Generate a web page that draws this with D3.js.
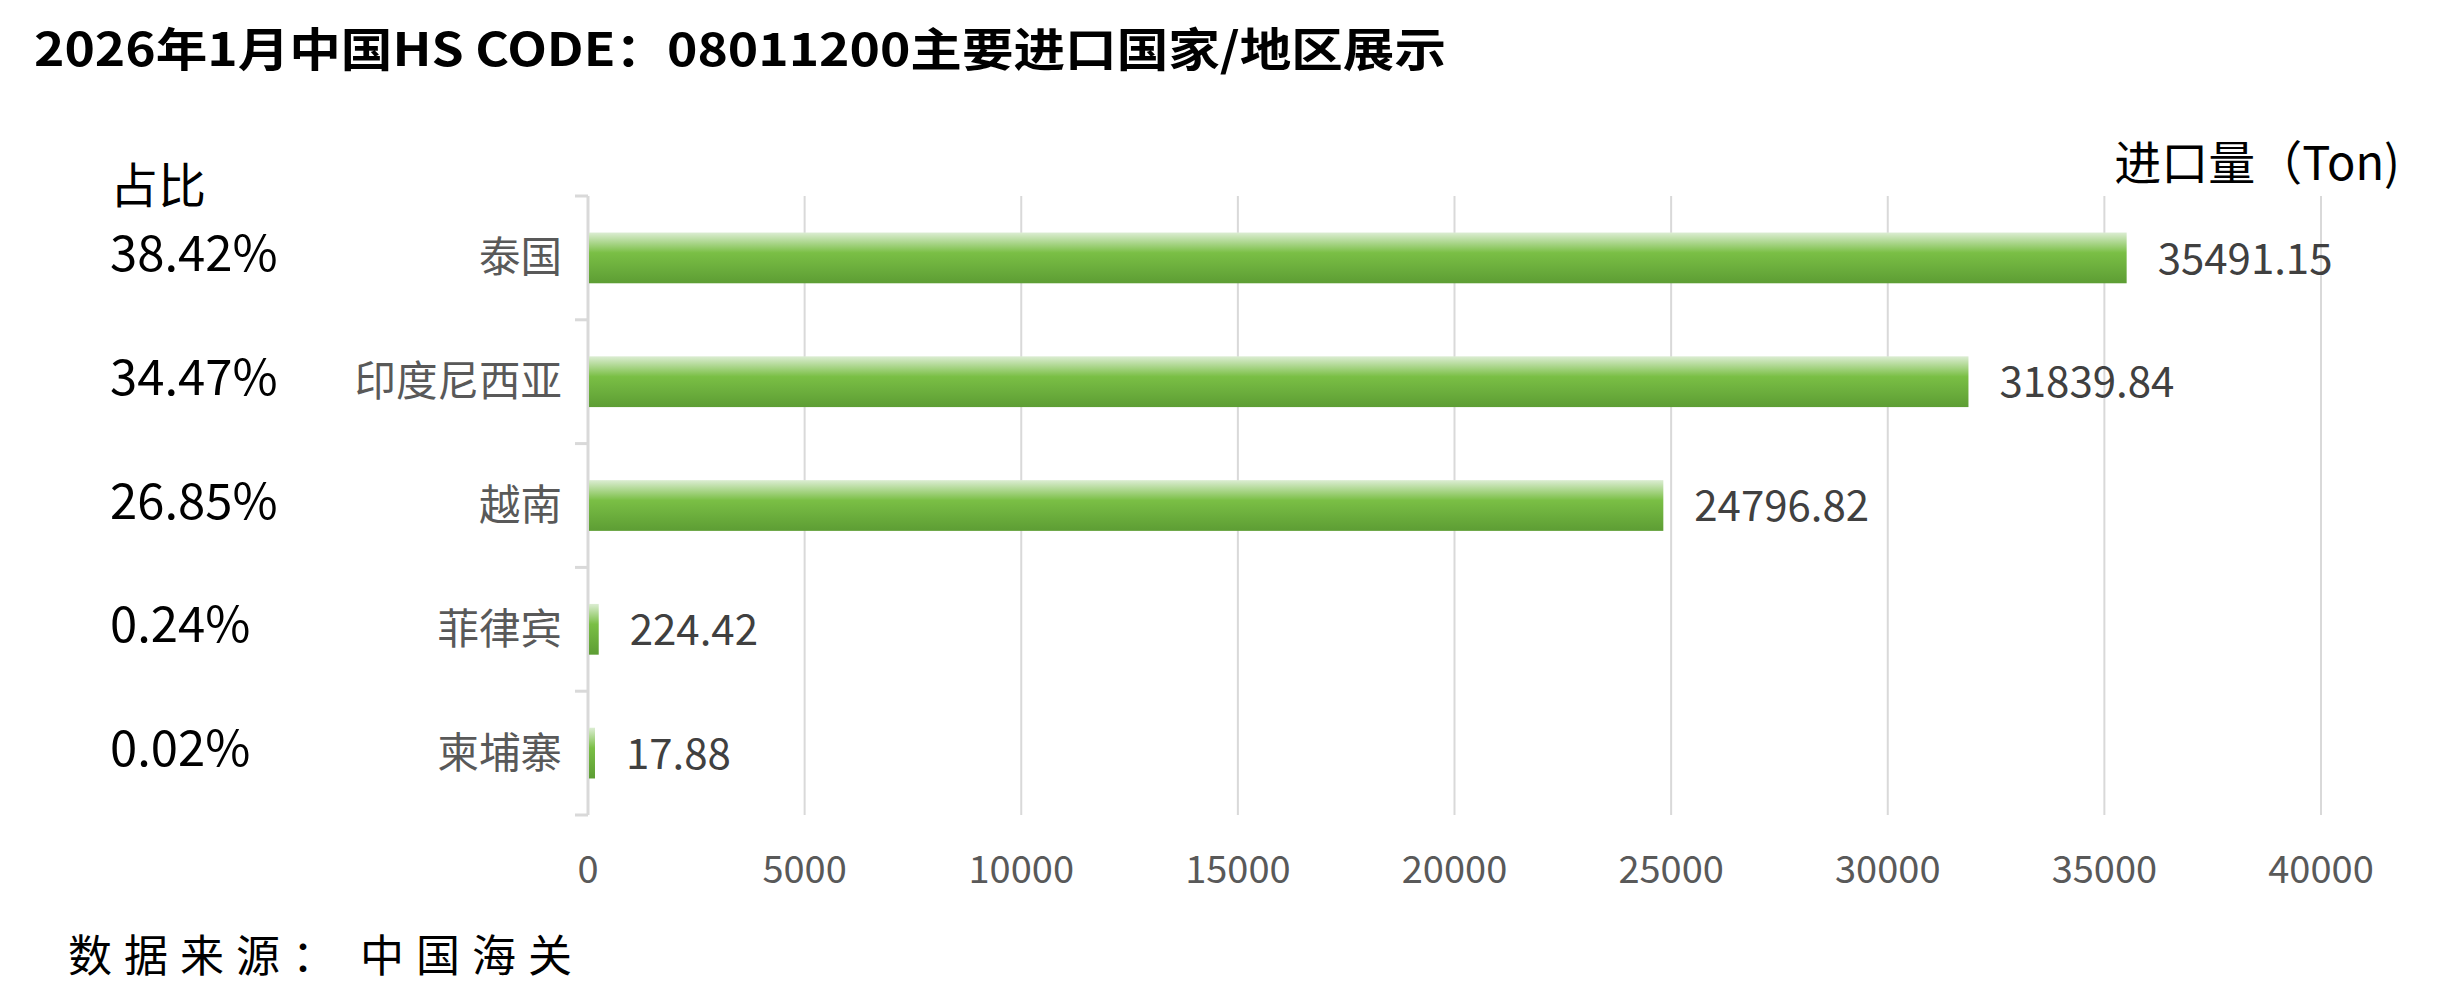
<!DOCTYPE html>
<meta charset="UTF-8">
<style>
  body { margin: 0; background: #fff; }
  svg text { font-family: "Noto Sans CJK SC", "Noto Sans", sans-serif; }
</style>
<body>
<div class="chart"></div>
<script src="https://d3js.org/d3.v7.min.js"></script>
<script>
  // data
  var countries = ["泰国", "印度尼西亚", "越南", "菲律宾", "柬埔寨"];
  var volumes = [35491.15, 31839.84, 24796.82, 224.42, 17.88];
  var shares = ["38.42%", "34.47%", "26.85%", "0.24%", "0.02%"];
  var xTicks = [0, 5000, 10000, 15000, 20000, 25000, 30000, 35000, 40000];

  var width = 2444, height = 1005;
  var plotLeft = 588, plotRight = 2321, plotTop = 196, plotBottom = 815;

  var svg = d3.select(".chart").append("svg")
      .attr("width", width)
      .attr("height", height);

  var grad = svg.append("defs").append("linearGradient")
      .attr("id", "barGrad")
      .attr("x1", 0).attr("y1", 0).attr("x2", 0).attr("y2", 1);
  grad.append("stop").attr("offset", "0%").attr("stop-color", "#dcedd3");
  grad.append("stop").attr("offset", "40%").attr("stop-color", "#7abf45");
  grad.append("stop").attr("offset", "100%").attr("stop-color", "#5d9d34");

  var x = d3.scaleLinear().domain([0, 40000]).range([plotLeft, plotRight]);
  var y = d3.scaleBand().domain(countries).range([plotTop, plotBottom])
      .paddingInner(0.59).paddingOuter(0.295);

  // title
  svg.append("text")
      .attr("x", 34).attr("y", 66)
      .attr("font-size", 46).attr("font-weight", "bold").attr("fill", "#000")
      .attr("textLength", 1412).attr("lengthAdjust", "spacingAndGlyphs")
      .text("2026年1月中国HS CODE：08011200主要进口国家/地区展示");

  // gridlines
  svg.append("g").selectAll("line").data(xTicks.slice(1)).join("line")
      .attr("x1", d => x(d)).attr("x2", d => x(d))
      .attr("y1", plotTop).attr("y2", plotBottom)
      .attr("stroke", "#d9d9d9").attr("stroke-width", 2);

  // category axis line + ticks at band boundaries
  var half = (y.step() - y.bandwidth()) / 2;
  var bounds = countries.map(c => y(c) - half);
  bounds.push(y(countries[countries.length - 1]) + y.bandwidth() + half);
  svg.append("line")
      .attr("x1", plotLeft).attr("x2", plotLeft).attr("y1", plotTop).attr("y2", plotBottom)
      .attr("stroke", "#d9d9d9").attr("stroke-width", 3);
  svg.append("g").selectAll("line").data(bounds).join("line")
      .attr("x1", plotLeft - 13).attr("x2", plotLeft)
      .attr("y1", d => d).attr("y2", d => d)
      .attr("stroke", "#d9d9d9").attr("stroke-width", 3);

  // bars
  svg.append("g").selectAll("rect").data(countries).join("rect")
      .attr("x", plotLeft + 1)
      .attr("y", d => y(d))
      .attr("width", (d, i) => Math.max(x(volumes[i]) - plotLeft, 6))
      .attr("height", y.bandwidth())
      .attr("fill", "url(#barGrad)");

  // value labels
  svg.append("g").selectAll("text").data(countries).join("text")
      .attr("x", (d, i) => Math.max(x(volumes[i]), plotLeft + 6) + 32)
      .attr("y", d => y(d) + y.bandwidth() / 2 + 1)
      .attr("dy", "0.35em")
      .attr("font-size", 42).attr("fill", "#404040")
      .text((d, i) => volumes[i]);

  // category labels
  svg.append("g").selectAll("text").data(countries).join("text")
      .attr("x", plotLeft - 26)
      .attr("y", d => y(d) + y.bandwidth() / 2)
      .attr("dy", "0.35em")
      .attr("text-anchor", "end")
      .attr("font-size", 41.5).attr("fill", "#595959")
      .text(d => d);

  // share labels
  svg.append("g").selectAll("text").data(countries).join("text")
      .attr("x", 110)
      .attr("y", d => y(d) + y.bandwidth() / 2 - 4)
      .attr("dy", "0.35em")
      .attr("font-size", 49).attr("fill", "#000")
      .text((d, i) => shares[i]);

  svg.append("text")
      .attr("x", 110).attr("y", 203)
      .attr("font-size", 48).attr("fill", "#000")
      .text("占比");

  svg.append("text")
      .attr("x", 2400).attr("y", 180)
      .attr("text-anchor", "end")
      .attr("font-size", 47).attr("fill", "#000")
      .text("进口量（Ton)");

  // x tick labels
  svg.append("g").selectAll("text").data(xTicks).join("text")
      .attr("x", d => x(d))
      .attr("y", 870)
      .attr("dy", "0.35em")
      .attr("text-anchor", "middle")
      .attr("font-size", 38).attr("fill", "#595959")
      .text(d => d);

  // source
  var src = svg.append("text")
      .attr("y", 972)
      .attr("font-size", 44).attr("fill", "#000")
      .attr("letter-spacing", 12);
  src.append("tspan").attr("x", 68).text("数据来源：");
  src.append("tspan").attr("x", 360).text("中国海关");
</script>
</body>
